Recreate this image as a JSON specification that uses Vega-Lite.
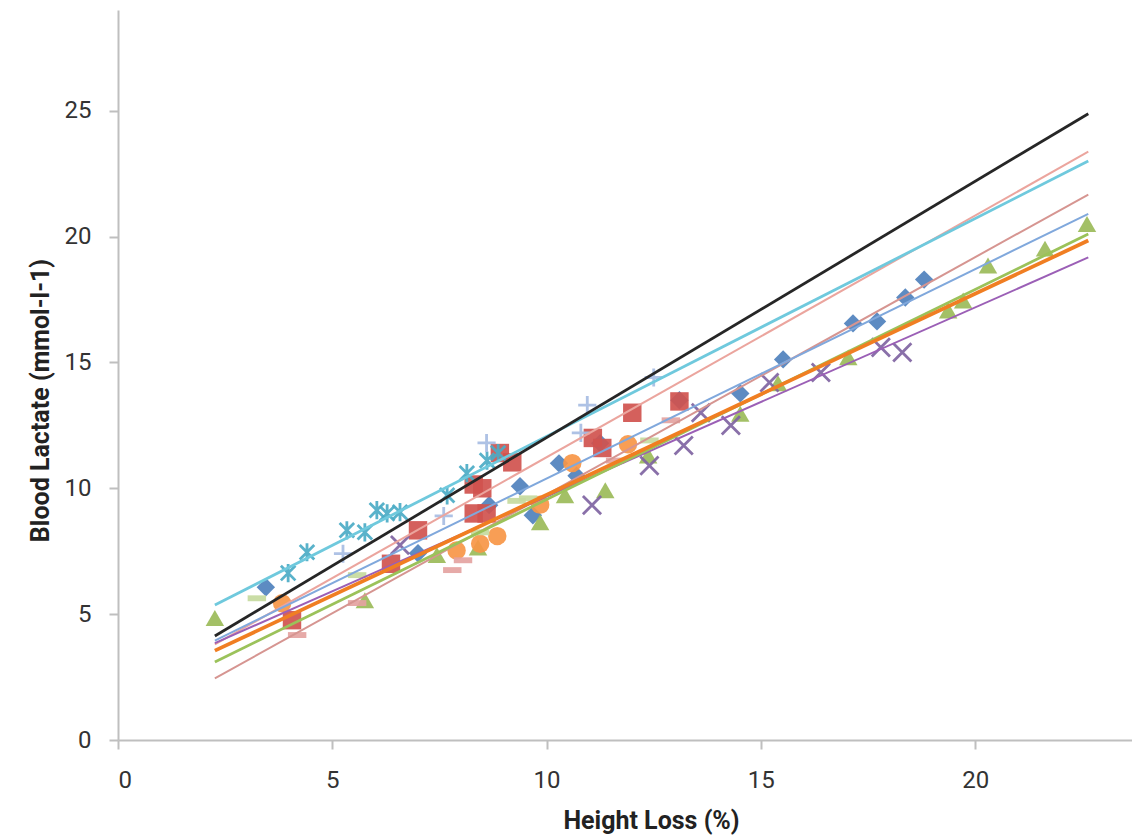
{
  "$schema": "https://vega.github.io/schema/vega-lite/v6.json",
  "width": 1014,
  "height": 730,
  "autosize": "none",
  "padding": {"left": 118, "top": 10, "right": 0, "bottom": 95},
  "background": "white",
  "config": {
    "view": {"stroke": null},
    "axis": {
      "grid": false,
      "domainColor": "#bfbfbf",
      "domainWidth": 2,
      "tickColor": "#bfbfbf",
      "tickWidth": 2,
      "tickSize": 9,
      "labelFont": "Roboto, sans-serif",
      "labelFontSize": 24,
      "labelColor": "#333333",
      "titleFont": "Roboto, sans-serif",
      "titleFontSize": 25,
      "titleFontWeight": "bold",
      "titleColor": "#222222"
    }
  },
  "resolve": {"scale": {"color": "independent", "shape": "independent", "size": "independent"}},
  "datasets": {
    "pts": [
      {"s": "S1", "x": 3.45, "y": 6.07}, {"s": "S1", "x": 7.0, "y": 7.42}, {"s": "S1", "x": 8.66, "y": 9.33},
      {"s": "S1", "x": 9.38, "y": 10.08}, {"s": "S1", "x": 9.68, "y": 8.93}, {"s": "S1", "x": 10.29, "y": 10.99},
      {"s": "S1", "x": 10.7, "y": 10.5}, {"s": "S1", "x": 11.25, "y": 11.79}, {"s": "S1", "x": 13.1, "y": 13.5},
      {"s": "S1", "x": 14.52, "y": 13.77}, {"s": "S1", "x": 15.52, "y": 15.12}, {"s": "S1", "x": 17.15, "y": 16.55},
      {"s": "S1", "x": 17.71, "y": 16.63}, {"s": "S1", "x": 18.37, "y": 17.58}, {"s": "S1", "x": 18.81, "y": 18.29},
      {"s": "S2", "x": 4.06, "y": 4.76}, {"s": "S2", "x": 6.37, "y": 7.0}, {"s": "S2", "x": 7.0, "y": 8.33},
      {"s": "S2", "x": 8.3, "y": 9.0}, {"s": "S2", "x": 8.6, "y": 9.0}, {"s": "S2", "x": 8.3, "y": 10.15},
      {"s": "S2", "x": 8.5, "y": 10.0}, {"s": "S2", "x": 8.91, "y": 11.4}, {"s": "S2", "x": 9.2, "y": 11.03},
      {"s": "S2", "x": 11.08, "y": 12.0}, {"s": "S2", "x": 11.3, "y": 11.6}, {"s": "S2", "x": 12.0, "y": 13.0},
      {"s": "S2", "x": 13.1, "y": 13.45},
      {"s": "S3", "x": 2.26, "y": 4.85}, {"s": "S3", "x": 5.76, "y": 5.55}, {"s": "S3", "x": 7.44, "y": 7.35},
      {"s": "S3", "x": 8.4, "y": 7.65}, {"s": "S3", "x": 9.85, "y": 8.65}, {"s": "S3", "x": 10.43, "y": 9.72},
      {"s": "S3", "x": 11.37, "y": 9.92}, {"s": "S3", "x": 12.37, "y": 11.3}, {"s": "S3", "x": 14.52, "y": 12.96},
      {"s": "S3", "x": 15.4, "y": 14.17}, {"s": "S3", "x": 17.04, "y": 15.2}, {"s": "S3", "x": 19.37, "y": 17.06},
      {"s": "S3", "x": 19.72, "y": 17.46}, {"s": "S3", "x": 20.3, "y": 18.85}, {"s": "S3", "x": 21.63, "y": 19.52},
      {"s": "S3", "x": 22.61, "y": 20.5},
      {"s": "S6", "x": 3.83, "y": 5.43}, {"s": "S6", "x": 7.9, "y": 7.53}, {"s": "S6", "x": 8.45, "y": 7.8},
      {"s": "S6", "x": 8.85, "y": 8.1}, {"s": "S6", "x": 9.85, "y": 9.35}, {"s": "S6", "x": 10.6, "y": 11.0},
      {"s": "S6", "x": 11.9, "y": 11.75},
      {"s": "S8", "x": 4.18, "y": 4.17}, {"s": "S8", "x": 5.58, "y": 5.44}, {"s": "S8", "x": 7.8, "y": 6.75},
      {"s": "S8", "x": 8.05, "y": 7.14}, {"s": "S8", "x": 12.9, "y": 12.7}, {"s": "S8", "x": 11.6, "y": 11.1},
      {"s": "S9", "x": 3.24, "y": 5.63}, {"s": "S9", "x": 5.58, "y": 6.55}, {"s": "S9", "x": 8.45, "y": 8.25},
      {"s": "S9", "x": 9.3, "y": 9.5}, {"s": "S9", "x": 9.57, "y": 9.6}, {"s": "S9", "x": 12.4, "y": 11.9},
      {"s": "S4", "x": 6.58, "y": 7.74}, {"s": "S4", "x": 11.06, "y": 9.33}, {"s": "S4", "x": 12.4, "y": 10.9},
      {"s": "S4", "x": 13.2, "y": 11.7}, {"s": "S4", "x": 13.6, "y": 13.0}, {"s": "S4", "x": 14.3, "y": 12.5},
      {"s": "S4", "x": 15.2, "y": 14.2}, {"s": "S4", "x": 16.4, "y": 14.6}, {"s": "S4", "x": 17.8, "y": 15.6},
      {"s": "S4", "x": 18.3, "y": 15.4},
      {"s": "S5", "x": 3.97, "y": 6.63}, {"s": "S5", "x": 4.41, "y": 7.46}, {"s": "S5", "x": 5.34, "y": 8.33},
      {"s": "S5", "x": 5.76, "y": 8.25}, {"s": "S5", "x": 6.04, "y": 9.13}, {"s": "S5", "x": 6.28, "y": 9.0},
      {"s": "S5", "x": 6.58, "y": 9.05}, {"s": "S5", "x": 7.68, "y": 9.72}, {"s": "S5", "x": 8.14, "y": 10.6},
      {"s": "S5", "x": 8.61, "y": 11.1}, {"s": "S5", "x": 8.87, "y": 11.4},
      {"s": "S7", "x": 5.25, "y": 7.4}, {"s": "S7", "x": 7.6, "y": 8.9}, {"s": "S7", "x": 8.6, "y": 11.8},
      {"s": "S7", "x": 10.8, "y": 12.2}, {"s": "S7", "x": 10.95, "y": 13.3}, {"s": "S7", "x": 12.5, "y": 14.4}
    ],
    "trend": [
      {"t": "rosy", "x": 2.26, "y": 2.45}, {"t": "rosy", "x": 22.64, "y": 21.67},
      {"t": "salmon", "x": 2.26, "y": 3.8}, {"t": "salmon", "x": 22.64, "y": 23.37},
      {"t": "lightblue", "x": 2.26, "y": 3.95}, {"t": "lightblue", "x": 22.64, "y": 20.9},
      {"t": "purple", "x": 2.26, "y": 3.85}, {"t": "purple", "x": 22.64, "y": 19.17},
      {"t": "green", "x": 2.26, "y": 3.1}, {"t": "green", "x": 22.64, "y": 20.1},
      {"t": "orange", "x": 2.26, "y": 3.55}, {"t": "orange", "x": 22.64, "y": 19.84},
      {"t": "cyan", "x": 2.26, "y": 5.36}, {"t": "cyan", "x": 22.64, "y": 23.0},
      {"t": "black", "x": 2.26, "y": 4.13}, {"t": "black", "x": 22.64, "y": 24.88}
    ]
  },
  "encoding": {
    "x": {
      "field": "x", "type": "quantitative",
      "scale": {"domain": [0, 23.66], "nice": false},
      "axis": {"values": [0, 5, 10, 15, 20], "title": "Height Loss (%)", "labelPadding": 19,
               "titleX": 533, "titleY": 80, "titleBaseline": "middle", "titleAlign": "center"}
    },
    "y": {
      "field": "y", "type": "quantitative",
      "scale": {"domain": [0, 29], "nice": false},
      "axis": {"values": [0, 5, 10, 15, 20, 25], "title": "Blood Lactate (mmol-l-1)", "labelPadding": 18,
               "titleX": -78, "titleY": 390, "titleAngle": -90, "titleBaseline": "middle", "titleAlign": "center"}
    }
  },
  "layer": [
    {
      "data": {"name": "pts"},
      "transform": [{"filter": "indexof(['S1','S2','S3','S6','S8','S9'], datum.s) >= 0"}],
      "mark": {"type": "point", "filled": true, "opacity": 0.92},
      "encoding": {
        "shape": {"field": "s", "type": "nominal", "legend": null,
          "scale": {"domain": ["S1", "S2", "S3", "S6", "S8", "S9"],
                    "range": ["diamond", "square", "triangle-up", "circle", "M-1,-0.32H1V0.32H-1Z", "M-1,-0.32H1V0.32H-1Z"]}},
        "color": {"field": "s", "type": "nominal", "legend": null,
          "scale": {"domain": ["S1", "S2", "S3", "S6", "S8", "S9"],
                    "range": ["#4F81BD", "#D0524E", "#9BBB59", "#F79646", "#E4A3A1", "#C5DA9E"]}},
        "size": {"field": "s", "type": "nominal", "legend": null,
          "scale": {"domain": ["S1", "S2", "S3", "S6", "S8", "S9"],
                    "range": [340, 340, 340, 300, 220, 280]}}
      }
    },
    {
      "data": {"name": "pts"},
      "transform": [{"filter": "indexof(['S4','S5','S7'], datum.s) >= 0"}],
      "mark": {"type": "point", "filled": false, "strokeWidth": 2.8, "opacity": 0.92},
      "encoding": {
        "shape": {"field": "s", "type": "nominal", "legend": null,
          "scale": {"domain": ["S4", "S5", "S7"],
                    "range": ["M-1,-1L1,1M1,-1L-1,1", "M-0.8,-0.8L0.8,0.8M0.8,-0.8L-0.8,0.8M0,-1L0,1", "M-1,0L1,0M0,-1L0,1"]}},
        "color": {"field": "s", "type": "nominal", "legend": null,
          "scale": {"domain": ["S4", "S5", "S7"], "range": ["#8064A2", "#4BACC6", "#A8BDE3"]}},
        "size": {"value": 330}
      }
    },
    {
      "data": {"name": "trend"},
      "transform": [{"filter": "indexof(['rosy','salmon','lightblue','purple'], datum.t) >= 0"}],
      "mark": {"type": "line", "strokeWidth": 2},
      "encoding": {
        "detail": {"field": "t"},
        "color": {"field": "t", "type": "nominal", "legend": null,
          "scale": {"domain": ["rosy", "salmon", "lightblue", "purple"],
                    "range": ["#D69591", "#EBA59E", "#80A8DC", "#9B5FB6"]}}
      }
    },
    {
      "data": {"name": "trend"},
      "transform": [{"filter": "indexof(['green','cyan'], datum.t) >= 0"}],
      "mark": {"type": "line", "strokeWidth": 2.8},
      "encoding": {
        "detail": {"field": "t"},
        "color": {"field": "t", "type": "nominal", "legend": null,
          "scale": {"domain": ["green", "cyan"], "range": ["#9BC25A", "#6FC9DD"]}}
      }
    },
    {
      "data": {"name": "trend"},
      "transform": [{"filter": "datum.t == 'orange'"}],
      "mark": {"type": "line", "strokeWidth": 3.8, "color": "#F07E22"},
      "encoding": {"detail": {"field": "t"}}
    },
    {
      "data": {"name": "trend"},
      "transform": [{"filter": "datum.t == 'black'"}],
      "mark": {"type": "line", "strokeWidth": 2.8, "color": "#262626"},
      "encoding": {"detail": {"field": "t"}}
    }
  ]
}
